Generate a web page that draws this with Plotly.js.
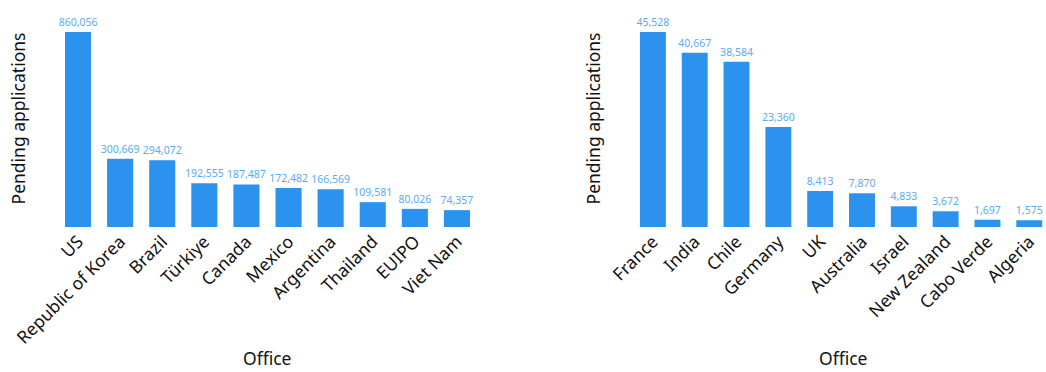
<!DOCTYPE html>
<html><head><meta charset="utf-8">
<script src="https://cdn.plot.ly/plotly-3.0.1.min.js"></script>
<style>body{margin:0;padding:0;background:#fff}#chart{width:1046px;height:372px}</style>
</head><body><div id="chart"></div>
<script>
const officesA = ["US","Republic of Korea","Brazil","Türkiye","Canada","Mexico","Argentina","Thailand","EUIPO","Viet Nam"];
const pendingA = [860056,300669,294072,192555,187487,172482,166569,109581,80026,74357];
const officesB = ["France","India","Chile","Germany","UK","Australia","Israel","New Zealand","Cabo Verde","Algeria"];
const pendingB = [45528,40667,38584,23360,8413,7870,4833,3672,1697,1575];

const barColor = '#2b93ee';
const labelColor = '#5aabf3';
const fontFam = '"Noto Sans", "Open Sans", sans-serif';
const fmt = v => v.toLocaleString('en-US');

const traces = [
  {type:'bar', x:officesA, y:pendingA, xaxis:'x', yaxis:'y', marker:{color:barColor},
   text:pendingA.map(fmt), textposition:'outside', cliponaxis:false, constraintext:'none',
   textfont:{size:10.5, color:labelColor, family:fontFam}, hoverinfo:'x+y'},
  {type:'bar', x:officesB, y:pendingB, xaxis:'x2', yaxis:'y2', marker:{color:barColor},
   text:pendingB.map(fmt), textposition:'outside', cliponaxis:false, constraintext:'none',
   textfont:{size:10.5, color:labelColor, family:fontFam}, hoverinfo:'x+y'}
];

const yDom = [(372-227)/372, (372-10)/372];
const axX = {tickangle:-45, tickfont:{size:17.5, color:'#111', family:fontFam}, showgrid:false, zeroline:false, showline:false, ticks:'', automargin:false, fixedrange:true};
const axY = {showticklabels:false, showgrid:false, zeroline:false, showline:false, ticks:'', automargin:false,
  title:{text:'Pending applications', font:{size:17.5, color:'#111', family:fontFam}, standoff:25}};

const layout = {
  width:1046, height:372, margin:{l:0,r:0,t:0,b:0},
  paper_bgcolor:'#fff', plot_bgcolor:'#fff', showlegend:false, bargap:0.38,
  font:{family:fontFam},
  xaxis: Object.assign({}, axX, {domain:[57/1046, 478/1046], anchor:'y', range:[-0.5,9.5]}),
  yaxis: Object.assign({}, axY, {domain:yDom, anchor:'x', range:[0, 860056*217/195]}),
  xaxis2: Object.assign({}, axX, {domain:[632/1046, 1], anchor:'y2', range:[-0.5,9.4]}),
  yaxis2: Object.assign({}, axY, {domain:yDom, anchor:'x2', range:[0, 45528*217/195]}),
  annotations:[
    {text:'Office', xref:'paper', yref:'paper', x:(57+478)/2/1046, y:(372-358)/372, yanchor:'middle', xanchor:'center', showarrow:false, font:{size:17.5,color:'#111',family:fontFam}},
    {text:'Office', xref:'paper', yref:'paper', x:843/1046, y:(372-358)/372, yanchor:'middle', xanchor:'center', showarrow:false, font:{size:17.5,color:'#111',family:fontFam}}
  ]
};
Plotly.newPlot('chart', traces, layout, {displayModeBar:false, staticPlot:true});
</script></body></html>
